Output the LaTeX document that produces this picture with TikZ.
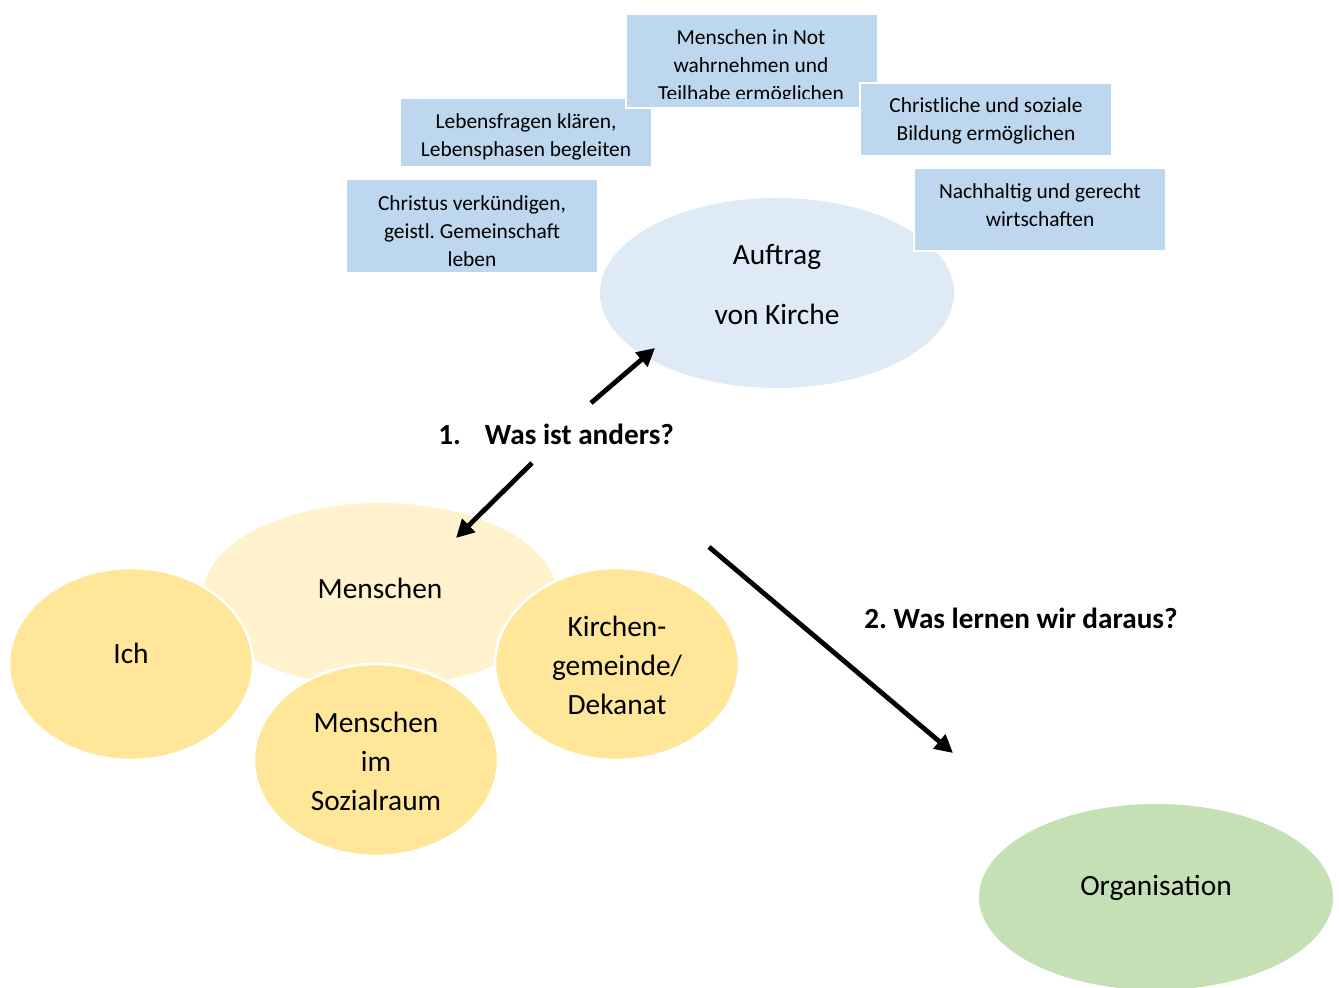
\documentclass[tikz,border=0pt]{standalone}
\usepackage{fontspec}
\setmainfont{Carlito}
\usetikzlibrary{shapes.geometric,arrows.meta}
\definecolor{boxblue}{HTML}{BDD7EE}
\definecolor{auftragblue}{HTML}{DEEBF7}
\definecolor{lightyellow}{HTML}{FFF2CC}
\definecolor{midyellow}{HTML}{FFE699}
\definecolor{lightgreen}{HTML}{C5E0B4}
\begin{document}
\begin{tikzpicture}[x=0.5pt,y=-0.5pt,
  bx/.style={rectangle, fill=boxblue, draw=white, line width=1pt, inner sep=0pt, minimum width=126pt},
  btxt/.style={align=center, font=\fontsize{10.7}{14}\selectfont, inner sep=0pt},
  ell/.style={ellipse, inner sep=0pt, draw=white, line width=1.3pt},
  big/.style={align=center, font=\fontsize{14.7}{19.5}\selectfont, inner sep=0pt},
  lbl/.style={font=\bfseries\fontsize{14.6}{16}\selectfont, inner sep=0pt, anchor=west},
  arr/.style={-{Triangle[length=9pt,width=9pt]}, line width=2.4pt}]
\useasboundingbox (0,0) rectangle (1339,988);

% Auftrag ellipse
\node[ellipse, inner sep=0pt, fill=auftragblue, minimum width=177pt, minimum height=95pt] (auftrag) at (777,293) {};
\node[big, font=\fontsize{14.7}{30}\selectfont] (auftragtxt) at (777,285) {Auftrag\\von Kirche};

% boxes
\node[bx, minimum height=47pt] (christus) at (472,226) {};
\node[btxt] (christustxt) at (472,231) {Christus verkündigen,\\geistl.\ Gemeinschaft\\leben};

\node[bx, minimum height=34.5pt] (lebens) at (526,132.5) {};
\node[btxt] (lebenstxt) at (526,137) {Lebensfragen klären,\\Lebensphasen begleiten};

\node[bx, minimum height=47pt] (not) at (751.5,61) {};
\begin{scope}
  \clip (626,14) rectangle (877,99);
  \node[btxt] (nottxt) at (751,67) {Menschen in Not\\wahrnehmen und\\Teilhabe ermöglichen};
\end{scope}

\node[bx, minimum height=36.5pt] (bildung) at (986,119.5) {};
\node[btxt] (bildungtxt) at (986,121) {Christliche und soziale\\Bildung ermöglichen};

\node[bx, minimum height=41.5pt] (nachhaltig) at (1040,209.5) {};
\node[btxt] (nachhaltigtxt) at (1040,205) {Nachhaltig und gerecht\\wirtschaften};

% labels
\node[lbl] (q1) at (438,434) {1.\hspace{12pt}Was ist anders?};
\node[lbl] (q2) at (864,618) {2.\ Was lernen wir daraus?};

% Menschen cluster
\node[ellipse, inner sep=0pt, fill=lightyellow, minimum width=177pt, minimum height=92pt] (menschen) at (380,595) {};
\node[big] (menschentxt) at (380,588) {Menschen};

\node[ell, fill=midyellow, minimum width=122pt, minimum height=96pt] (ich) at (131,664) {};
\node[big] (ichtxt) at (131,653) {Ich};

\node[ell, fill=midyellow, minimum width=122pt, minimum height=96pt] (sozial) at (376,760) {};
\node[big] (sozialtxt) at (376,761) {Menschen\\im\\Sozialraum};

\node[ell, fill=midyellow, minimum width=122pt, minimum height=96pt] (kirche) at (617,664) {};
\node[big] (kirchetxt) at (617,665) {Kirchen-\\gemeinde/\\Dekanat};

% Organisation
\node[ellipse, inner sep=0pt, fill=lightgreen, minimum width=177pt, minimum height=93pt] (org) at (1156,897) {};
\node[big] (orgtxt) at (1156,888) {Organisation};

% arrows
\coordinate (a1s) at (591,403);
\coordinate (a1e) at (655,348);
\coordinate (a2s) at (532,463);
\coordinate (a2e) at (456,538);
\coordinate (a3s) at (709,547);
\coordinate (a3e) at (953,753);
\draw[arr] (a1s) -- (a1e);
\draw[arr] (a2s) -- (a2e);
\draw[arr] (a3s) -- (a3e);
\end{tikzpicture}
\end{document}
